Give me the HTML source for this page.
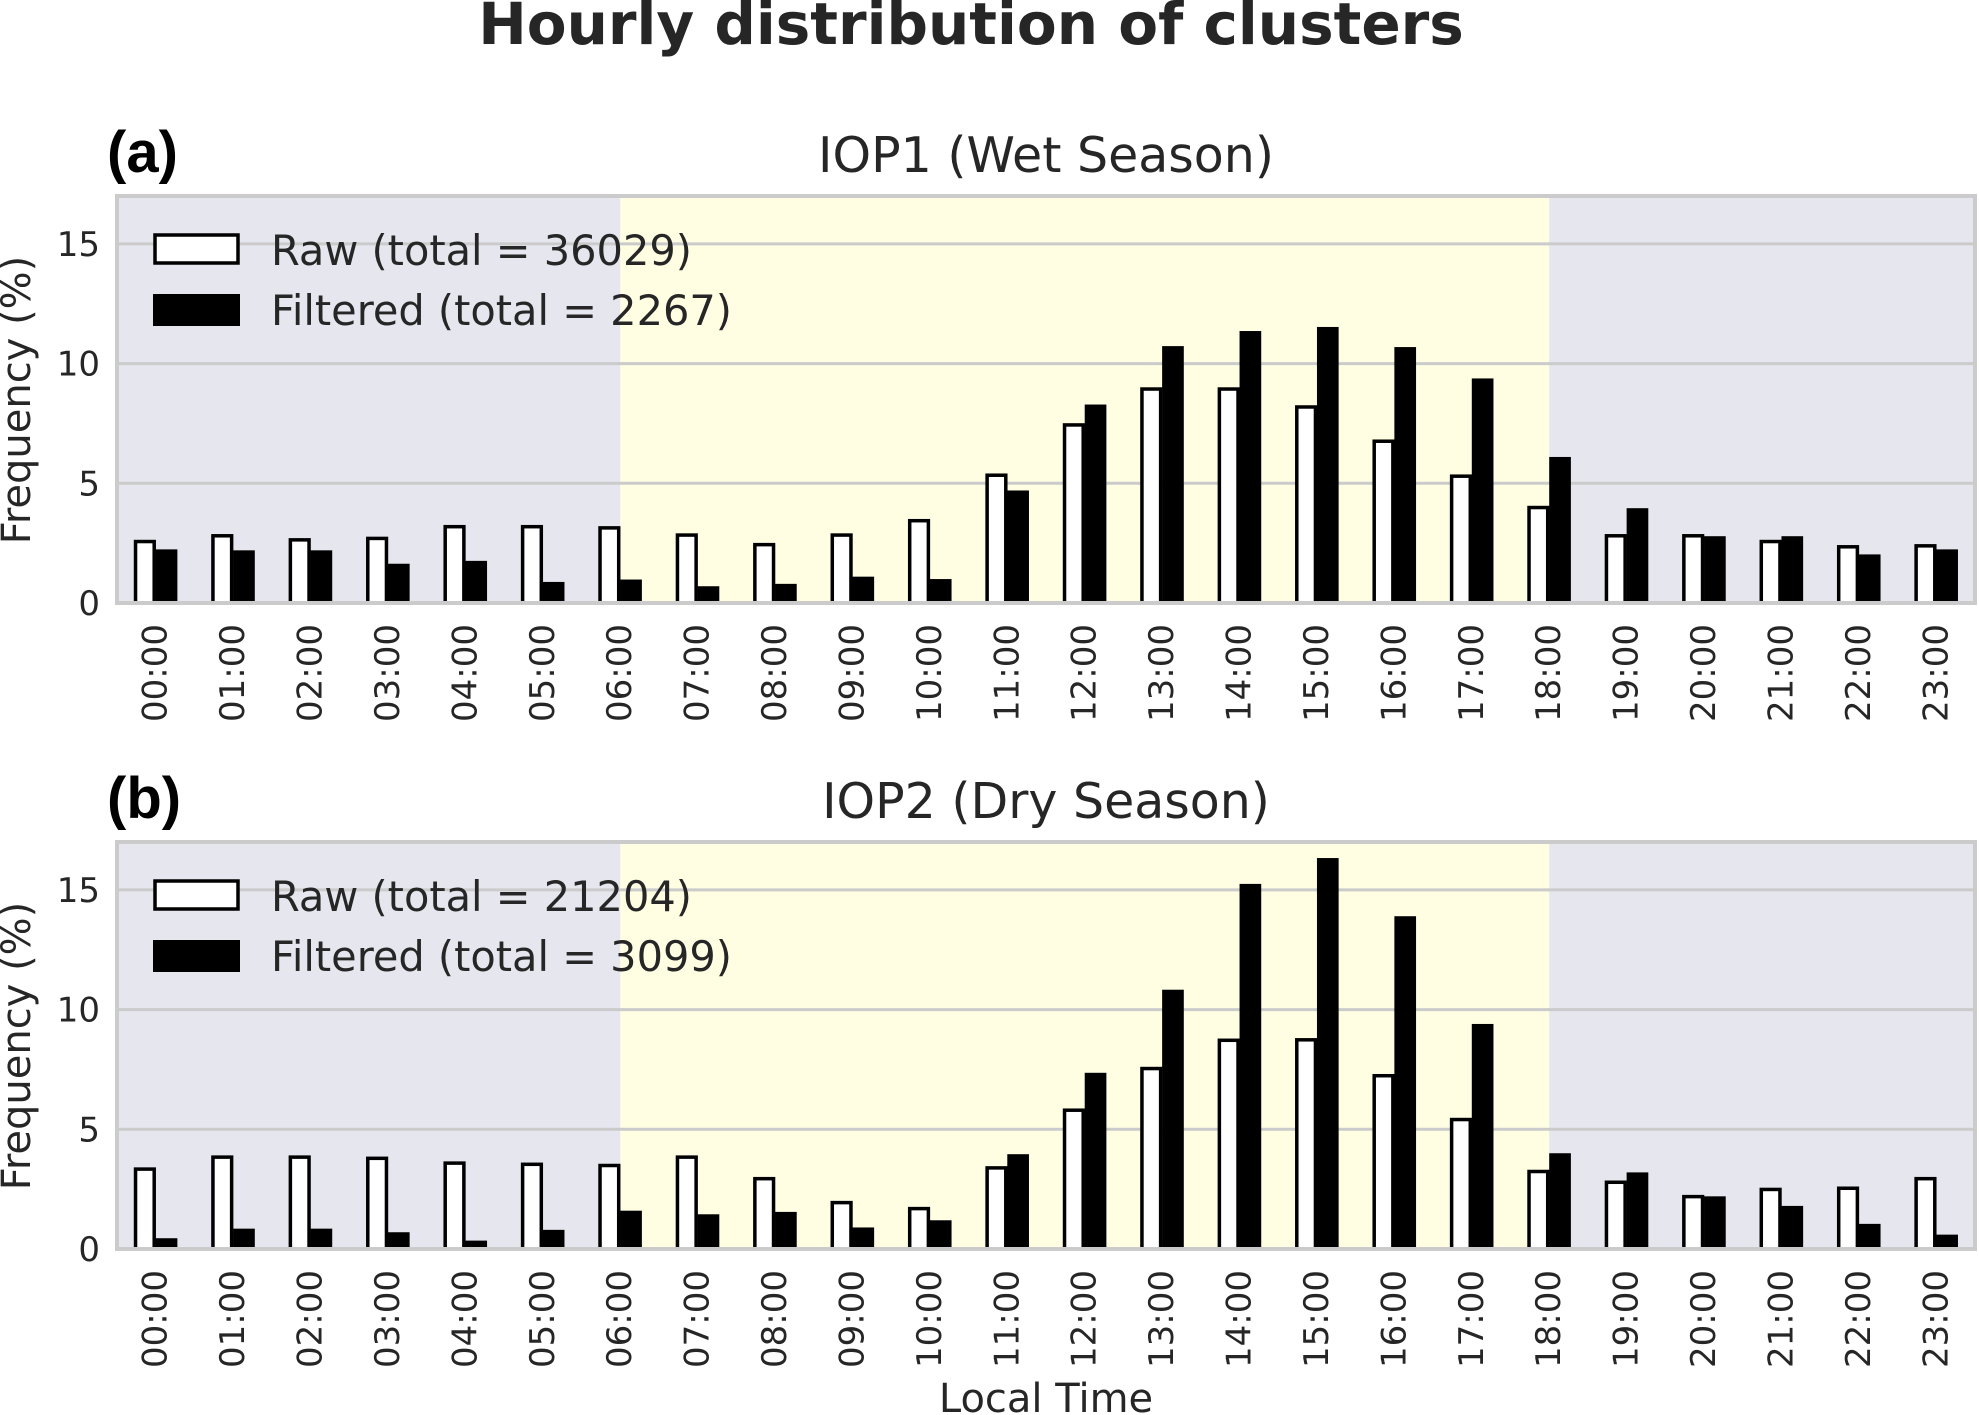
<!DOCTYPE html>
<html><head><meta charset="utf-8"><style>
html,body{margin:0;padding:0;background:#fff;}
svg{display:block;}
text{font-family:"DejaVu Sans","Liberation Sans",sans-serif;fill:#262626;}
</style></head><body>
<svg id="fig" width="1979" height="1415" viewBox="0 0 1979 1415" xmlns="http://www.w3.org/2000/svg">
<text x="971" y="44" text-anchor="middle" font-size="58" font-weight="bold">Hourly distribution of clusters</text>
<text x="30" y="400" text-anchor="middle" font-size="40" transform="rotate(-90 30 400)">Frequency (%)</text>
<text x="30" y="1046" text-anchor="middle" font-size="40" transform="rotate(-90 30 1046)">Frequency (%)</text>
<text x="1046" y="1412" text-anchor="middle" font-size="40">Local Time</text>
<g id="panels"></g>
</svg>
<script>
const hours = ["00:00","01:00","02:00","03:00","04:00","05:00","06:00","07:00","08:00","09:00","10:00","11:00","12:00","13:00","14:00","15:00","16:00","17:00","18:00","19:00","20:00","21:00","22:00","23:00"];
const yTicks = [0,5,10,15];
const rawA = [2.63,2.87,2.7,2.76,3.25,3.25,3.2,2.9,2.5,2.9,3.5,5.4,7.5,9.0,9.0,8.25,6.82,5.36,4.05,2.87,2.87,2.63,2.41,2.45];
const filtA = [2.24,2.2,2.2,1.64,1.76,0.88,0.98,0.7,0.8,1.1,1.0,4.7,8.29,10.73,11.36,11.53,10.69,9.38,6.1,3.96,2.79,2.79,2.03,2.24];
const rawB = [3.4,3.9,3.9,3.85,3.65,3.6,3.55,3.9,3.0,2.0,1.75,3.45,5.86,7.6,8.78,8.8,7.3,5.47,3.3,2.85,2.25,2.55,2.6,3.0];
const filtB = [0.45,0.85,0.85,0.7,0.35,0.8,1.6,1.45,1.55,0.9,1.2,3.96,7.36,10.83,15.25,16.33,13.9,9.4,4.0,3.2,2.2,1.8,1.05,0.6];
const panelLabels = ["(a)","(b)"];
const panelTitles = ["IOP1 (Wet Season)","IOP2 (Dry Season)"];
const rawTotals = ["36029","21204"];
const filtTotals = ["2267","3099"];
const dayStart = 6, dayEnd = 18, yMax = 17;

const NS = "http://www.w3.org/2000/svg";
const L = 117, R = 1975;
function mk(tag, attrs, parent){const e=document.createElementNS(NS,tag);for(const k in attrs)e.setAttribute(k,attrs[k]);parent.appendChild(e);return e;}
const root = document.getElementById('panels');
const panels = [{top:196,bot:603,raw:rawA,filt:filtA},{top:842,bot:1249,raw:rawB,filt:filtB}];
panels.forEach((p,pi)=>{
  const g = mk('g',{},root);
  
  
  const xs = v => L + (v+0.5)*(R-L)/24;
  const ys = v => p.bot - v*(p.bot-p.top)/yMax;
  const bg = mk('rect',{x:L,y:p.top,width:R-L,height:p.bot-p.top,fill:'#e6e6ef'},g);
  
  
  const sh = mk('rect',{x:xs(dayStart),y:p.top,width:xs(dayEnd)-xs(dayStart),height:p.bot-p.top,fill:'#fffee3'},g);
  
  
  yTicks.forEach(t=>{
    const ln = mk('line',{x1:L,x2:R,y1:ys(t),y2:ys(t),stroke:'#cbcbcb','stroke-width':3},g);
    
    
    const tx = mk('text',{x:100,y:ys(t)+12,'text-anchor':'end','font-size':34},g);
    tx.textContent = t;
    
    
  });
  const w = 0.28*(R-L)/24;
  hours.forEach((h,i)=>{
    const c = xs(i);
    const rb = mk('rect',{x:c-w+1.5,y:ys(p.raw[i])+1.5,width:w-3,height:p.bot-ys(p.raw[i])-1.5,fill:'#fff',stroke:'#000','stroke-width':3.5},g);
    
    
    const fb = mk('rect',{x:c,y:ys(p.filt[i]),width:w,height:p.bot-ys(p.filt[i]),fill:'#000'},g);
    
    
    const tl = mk('text',{x:0,y:0,'text-anchor':'end','font-size':34,transform:`translate(${c+11},${p.bot+21}) rotate(-90)`},g);
    tl.textContent = h;
    
    
  });
  const fr = mk('rect',{x:L,y:p.top,width:R-L,height:p.bot-p.top,fill:'none',stroke:'#cbcbcb','stroke-width':4},g);
  
  
  const pl = mk('text',{x:107,y:p.top-24,'font-size':58,'font-weight':'bold',style:'font-family:"Liberation Sans",sans-serif;fill:#000'},g);
  pl.textContent = panelLabels[pi];
  
  
  const pt = mk('text',{x:(L+R)/2,y:p.top-24,'text-anchor':'middle','font-size':49},g);
  pt.textContent = panelTitles[pi];
  
  
  const lg = mk('g',{},g);
  
  
  const off = p.top-196;
  const r1 = mk('rect',{x:155,y:235+off,width:83,height:28,fill:'#fff',stroke:'#000','stroke-width':3.5},lg);
  
  
  const t1 = mk('text',{x:271,y:265+off,'font-size':41.5},lg);
  t1.textContent = 'Raw (total = ' + rawTotals[pi] + ')';
  
  
  const r2 = mk('rect',{x:153,y:294+off,width:87,height:32,fill:'#000'},lg);
  
  
  const t2 = mk('text',{x:271,y:325+off,'font-size':41.5},lg);
  t2.textContent = 'Filtered (total = ' + filtTotals[pi] + ')';
  
  
});
</script>
</body></html>
